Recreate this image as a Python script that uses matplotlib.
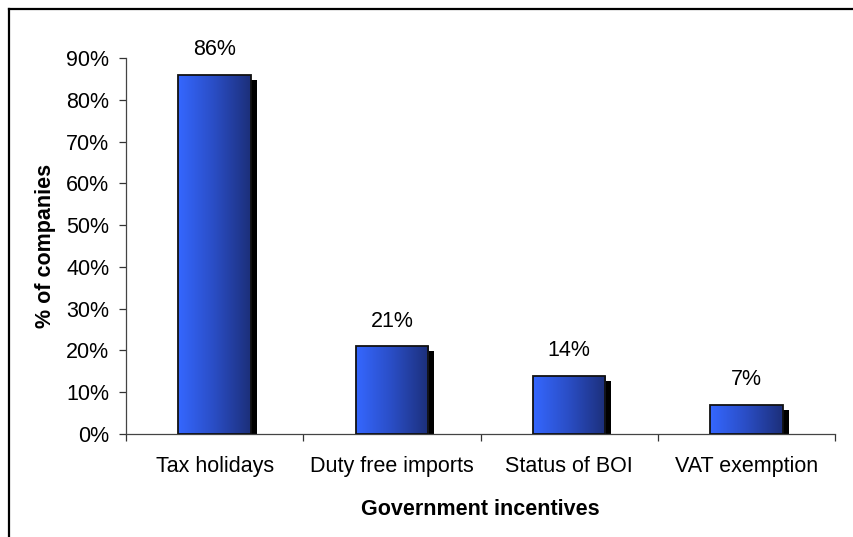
import matplotlib
matplotlib.use("Agg")
import matplotlib.pyplot as plt
import matplotlib.transforms as mtransforms
from matplotlib.patches import Rectangle
from matplotlib.lines import Line2D
from matplotlib.colors import LinearSegmentedColormap
import numpy as np

plt.rcParams['font.family'] = ['Liberation Sans', 'DejaVu Sans']

categories = ["Tax holidays", "Duty free imports", "Status of BOI", "VAT exemption"]
values = [0.86, 0.21, 0.14, 0.07]
value_labels = ["86%", "21%", "14%", "7%"]
yticks = [0.0, 0.1, 0.2, 0.3, 0.4, 0.5, 0.6, 0.7, 0.8, 0.9]
ytick_labels = ["0%", "10%", "20%", "30%", "40%", "50%", "60%", "70%", "80%", "90%"]

FS = 15.5

fig = plt.figure(figsize=(8.54, 5.37), dpi=100)
ax = fig.add_axes([0.1475, 0.1918, 0.8303, 0.7002])

bar_width = 0.41
cmap = LinearSegmentedColormap.from_list("barfill", ["#3567ff", "#2a4dc4", "#1c2f7a"])
grad = np.linspace(0, 1, 256).reshape(1, -1)

shadow_shift = mtransforms.ScaledTranslation(6 / 100, -5 / 100, fig.dpi_scale_trans)

for i, v in enumerate(values):
    x0 = i - bar_width / 2
    # drop shadow
    shadow = Rectangle((x0, 0), bar_width, v, facecolor="black", edgecolor="none",
                       transform=ax.transData + shadow_shift, zorder=1)
    ax.add_patch(shadow)
    # gradient fill clipped to the bar
    rect = Rectangle((x0, 0), bar_width, v, facecolor="none", edgecolor="#111111",
                     linewidth=1.3, zorder=3)
    ax.add_patch(rect)
    im = ax.imshow(grad, cmap=cmap, aspect="auto", extent=(x0, x0 + bar_width, 0, v),
                   zorder=2, interpolation="bilinear")
    im.set_clip_path(rect)
    ax.annotate(value_labels[i], xy=(i, v), xytext=(0, 18), textcoords="offset points",
                ha="center", va="center", fontsize=FS, color="black")

ax.set_xlim(-0.5, 3.5)
ax.set_ylim(0, 0.9)

ax.set_yticks(yticks)
ax.set_yticklabels(ytick_labels, fontsize=FS)
ax.tick_params(axis="y", direction="out", length=5, width=0.9, pad=7, color="#333333")

ax.set_xticks(range(len(categories)))
ax.set_xticklabels(categories, fontsize=FS)
ax.set_xticks([-0.5, 0.5, 1.5, 2.5, 3.5], minor=True)
ax.tick_params(axis="x", which="major", length=0, pad=16)
ax.tick_params(axis="x", which="minor", direction="out", length=5, width=0.9, color="#333333")

for s in ["top", "right"]:
    ax.spines[s].set_visible(False)
for s in ["left", "bottom"]:
    ax.spines[s].set_color("#444444")
    ax.spines[s].set_linewidth(0.9)

ax.set_ylabel("% of companies", fontsize=FS, fontweight="bold", labelpad=7)
ax.set_xlabel("Government incentives", fontsize=FS, fontweight="bold", labelpad=16)

# outer chart frame
fx = 8.5 / 854
fy = 1 - 8.5 / 537
fig.add_artist(Line2D([fx, fx], [0, fy], transform=fig.transFigure, color="black", linewidth=1.6))
fig.add_artist(Line2D([fx, 1], [fy, fy], transform=fig.transFigure, color="black", linewidth=1.6))

fig.savefig("out.png", dpi=100)
